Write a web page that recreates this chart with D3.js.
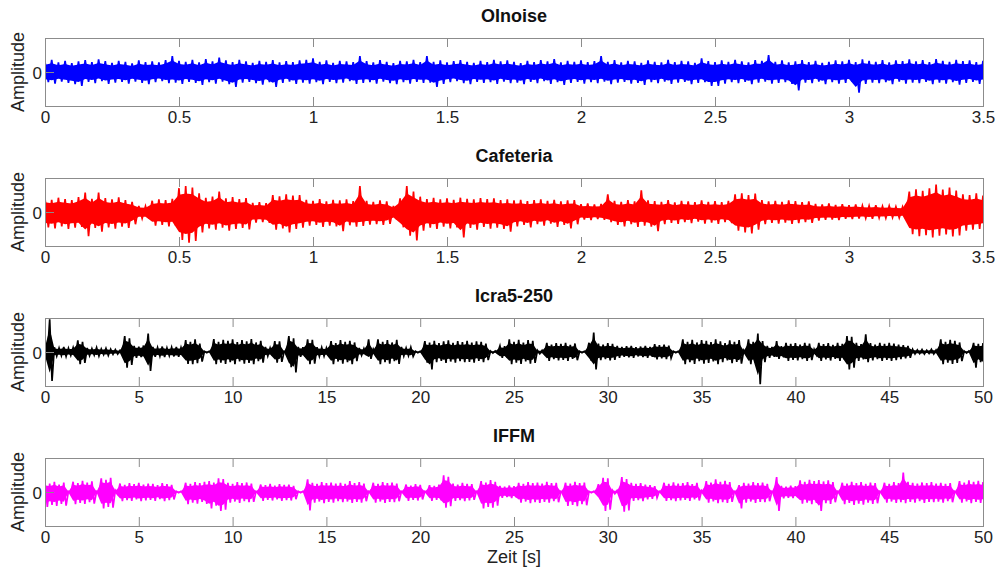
<!DOCTYPE html>
<html>
<head>
<meta charset="utf-8">
<script src="https://cdn.jsdelivr.net/npm/d3@7"></script>
<style>
  html, body { margin: 0; padding: 0; background: #fff; }
  svg { display: block; font-family: "Liberation Sans", Arial, sans-serif; }
</style>
</head>
<body>
<svg id="chart" width="999" height="568"></svg>
<script>
// ---------- DATA (amplitude envelopes, % of half axis height) ----------
const titles = ["OInoise", "Cafeteria", "Icra5-250", "IFFM"];
const colors = ["#0000ff", "#ff0000", "#000000", "#ff00ff"];
const xMax = [3.5, 3.5, 50, 50];
const binStep = [0.025, 0.025, 0.25, 0.25];
const ticksShort = [0, 0.5, 1, 1.5, 2, 2.5, 3, 3.5];
const ticksLong = [0, 5, 10, 15, 20, 25, 30, 35, 40, 45, 50];
const yTickLabels = ["0"];
const xLabel = "Zeit [s]";
const yLabel = "Amplitude";

const oinoiseUpper = [30,36,28,33,26,31,35,29,37,32, 27,33,30,25,34,29,31,28,35,47, 33,30,36,28,38,31,42,34,29,36,
  31,27,33,30,35,28,32,29,34,36, 40,30,34,27,33,31,29,47,32,28, 35,30,26,33,31,36,29,47,30,34,
  28,32,35,30,27,33,29,36,31,34, 30,26,33,29,35,31,38,28,33,30, 34,29,32,47,30,35,28,33,31,27,
  34,30,28,36,29,33,31,27,40,32, 29,34,30,36,31,28,35,33,50,30, 34,28,31,35,29,33,27,30,34,31,
  36,29,37,33,30,35,28,34,32,37, 31,35,29,38,33,30,36,32,34,29,33];
const oinoiseLower = [-30,-34,-28,-32,-36,-41,-29,-33,-27,-35, -31,-29,-34,-28,-32,-36,-30,-27,-33,-31,
  -35,-29,-32,-38,-30,-34,-28,-36,-44,-31, -29,-33,-37,-30,-44,-32,-28,-35,-31,-34,
  -30,-36,-29,-33,-31,-27,-35,-32,-30,-34, -28,-33,-36,-30,-34,-29,-32,-31,-44,-35,
  -30,-27,-33,-36,-29,-32,-30,-35,-28,-33, -31,-36,-29,-33,-27,-35,-30,-38,-32,-29,
  -34,-30,-33,-28,-36,-31,-29,-34,-32,-38, -30,-33,-28,-35,-31,-29,-36,-32,-30,-41,
  -41,-34,-30,-33,-29,-36,-31,-28,-34,-32, -30,-35,-54,-31,-33,-28,-36,-30,-34,-32,
  -29,-61,-35,-31,-33,-30,-36,-28,-34,-31, -33,-29,-36,-31,-34,-30,-37,-32,-29,-35,-31];

const cafeteriaUpper = [40,36,42,38,35,44,57,39,57,41, 37,43,35,30,18,17,33,37,35,39, 70,76,72,55,42,45,60,40,44,38,
  41,27,29,26,50,46,52,48,50,36, 33,38,31,36,34,37,32,76,33,30, 34,31,18,40,76,60,45,38,42,37,
  40,36,42,39,37,41,38,40,35,37, 34,36,32,35,37,33,36,31,34,35, 23,25,22,24,52,33,30,35,31,64,
  34,32,30,35,28,33,31,29,34,30, 32,29,33,52,55,50,54,35,31,33, 30,34,32,29,31,24,22,25,21,23,
  20,22,19,18,20,17,18,16,15,60, 67,62,70,81,66,72,63,52,50,55, 48];
const cafeteriaLower = [-45,-48,-42,-50,-46,-44,-71,-47,-58,-45, -49,-43,-47,-36,-19,-19,-40,-38,-42,-40,
  -82,-90,-85,-60,-48,-52,-46,-55,-50,-47, -51,-31,-30,-32,-52,-48,-60,-50,-46,-40,
  -38,-44,-40,-42,-56,-39,-43,-41,-37,-36, -38,-35,-22,-45,-70,-84,-55,-46,-50,-43,
  -48,-45,-75,-47,-52,-44,-49,-46,-50,-58, -42,-38,-45,-36,-40,-34,-44,-38,-48,-36,
  -22,-24,-21,-23,-30,-38,-42,-36,-44,-40, -43,-56,-36,-32,-35,-30,-33,-28,-34,-31,
  -35,-30,-33,-55,-60,-63,-52,-36,-32,-34, -31,-35,-33,-30,-32,-25,-23,-22,-24,-20,
  -21,-19,-18,-20,-17,-18,-16,-17,-15,-65, -71,-68,-75,-70,-66,-72,-69,-55,-52,-50, -46];

const icraUpper = [20,96,14,12,15,11,13,34,30,12, 10,13,9,11,8,7,5,47,40,18, 16,19,54,15,13,16,12,14,15,13,
  35,30,37,25,2,2,38,30,36,33, 37,29,35,31,38,28,33,15,12,32, 31,2,47,40,15,14,37,36,14,13,
  12,32,26,35,30,33,28,12,10,37, 8,37,30,35,28,36,15,12,14,2, 2,32,28,33,26,31,34,27,32,29,
  33,28,31,30,25,3,3,18,17,37, 30,36,28,35,33,5,5,27,22,26, 24,27,21,25,2,2,27,57,25,22,
  26,24,18,15,17,18,14,16,18,15, 23,20,22,19,2,2,37,30,36,28, 35,33,29,37,31,26,34,30,35,5,
  37,30,54,32,18,15,32,17,27,24, 26,22,27,25,8,27,23,26,21,27, 24,47,45,27,23,52,26,22,27,24,
  27,25,22,20,18,8,6,7,5,8, 6,37,30,36,33,28,3,3,27,24,26];
const icraLower = [-15,-85,-12,-11,-13,-10,-12,-36,-32,-11, -9,-12,-8,-10,-7,-6,-5,-46,-38,-17,
  -15,-18,-56,-14,-12,-15,-11,-13,-14,-12, -35,-36,-33,-28,-2,-2,-36,-31,-35,-30,
  -36,-28,-34,-32,-36,-27,-31,-12,-10,-31, -29,-2,-45,-60,-14,-13,-36,-34,-13,-12,
  -11,-36,-28,-34,-30,-36,-27,-10,-9,-20, -8,-36,-30,-34,-27,-35,-12,-11,-13,-2,
  -2,-31,-51,-30,-26,-32,-28,-31,-27,-30, -29,-31,-26,-30,-24,-3,-3,-17,-16,-36,
  -31,-35,-28,-34,-32,-5,-5,-26,-21,-25, -23,-26,-20,-24,-2,-2,-26,-51,-24,-21,
  -25,-23,-17,-14,-16,-17,-13,-15,-17,-14, -22,-19,-21,-18,-2,-2,-36,-30,-35,-27,
  -34,-32,-28,-36,-30,-25,-33,-29,-34,-5, -36,-31,-95,-30,-17,-14,-20,-16,-26,-23,
  -25,-21,-26,-24,-8,-26,-22,-25,-20,-26, -23,-51,-46,-26,-22,-30,-25,-21,-26,-23,
  -26,-24,-21,-19,-17,-6,-5,-6,-4,-6, -5,-36,-31,-35,-32,-27,-3,-3,-46,-30,-40];

const iffmUpper = [27,25,30,22,28,2,30,26,33,28, 31,2,40,36,42,5,25,21,26,23, 27,22,25,24,20,26,23,21,2,2,
  27,24,29,26,30,32,28,40,38,27, 24,29,26,28,25,2,22,20,24,19, 23,21,22,18,2,2,37,27,24,29,
  26,28,25,27,24,32,26,29,25,2, 27,24,29,26,28,25,2,22,19,23, 21,2,20,18,22,49,45,25,22,27,
  24,23,2,32,28,35,30,18,16,19, 17,27,24,29,26,28,25,30,26,27, 2,27,25,30,26,28,2,2,23,42,
  40,5,5,44,38,27,24,26,22,20, 17,2,27,24,28,25,26,29,23,27, 4,32,28,37,30,33,29,2,20,27,
  25,29,26,28,24,2,44,18,16,19, 17,34,30,36,32,35,31,34,29,2, 27,25,30,26,29,24,28,26,2,27,
  24,29,26,57,30,27,25,28,26,29, 25,27,24,26,2,32,28,34,30,33,29];
const iffmLower = [-44,-38,-41,-35,-40,-2,-36,-32,-35,-30, -34,-2,-48,-44,-46,-5,-27,-24,-26,-22,
  -27,-25,-23,-26,-21,-27,-24,-22,-2,-2, -36,-31,-34,-29,-35,-48,-40,-56,-52,-31,
  -28,-32,-27,-30,-29,-2,-26,-23,-25,-22, -26,-24,-25,-21,-2,-2,-54,-31,-28,-33,
  -29,-31,-27,-30,-28,-32,-29,-31,-27,-2, -31,-28,-32,-29,-30,-27,-2,-26,-23,-25,
  -22,-2,-26,-23,-25,-46,-42,-26,-24,-27, -25,-23,-2,-48,-44,-46,-40,-17,-15,-18,
  -16,-31,-28,-33,-30,-32,-29,-31,-27,-30, -2,-41,-38,-42,-36,-39,-2,-2,-22,-56,
  -52,-5,-5,-58,-54,-26,-24,-27,-22,-20, -17,-2,-26,-24,-27,-25,-23,-26,-22,-25,
  -4,-31,-28,-33,-30,-32,-29,-2,-48,-31, -28,-32,-29,-30,-27,-2,-56,-19,-17,-18,
  -16,-34,-31,-36,-32,-56,-33,-35,-30,-2, -36,-32,-38,-34,-37,-31,-35,-33,-2,-31,
  -28,-32,-30,-33,-29,-31,-27,-32,-29,-30, -28,-31,-27,-30,-2,-31,-28,-33,-29,-32,-30];

const uppers = [oinoiseUpper, cafeteriaUpper, icraUpper, iffmUpper];
const lowers = [oinoiseLower, cafeteriaLower, icraLower, iffmLower];
const tickSets = [ticksShort, ticksShort, ticksLong, ticksLong];

// ---------- LAYOUT ----------
const svg = d3.select("#chart");
const left = 45, right = 983, panelH = 68, panelGap = 140, firstTop = 38;
const frameColor = "#8c8c8c", textColor = "#222";
const coreShare = 0.72; // visual: solid core of the trace

for (let p = 0; p < 4; p++) {
  const top = firstTop + p * panelGap, bottom = top + panelH;
  const x = d3.scaleLinear().domain([0, xMax[p]]).range([left, right]);
  const y = d3.scaleLinear().domain([-100, 100]).range([bottom, top]);
  const g = svg.append("g");

  const clipId = "clip" + p;
  svg.append("clipPath").attr("id", clipId).append("rect")
    .attr("x", left).attr("y", top).attr("width", right - left).attr("height", panelH);

  const pts = uppers[p].map((u, i) => ({ t: i * binStep[p], u: u, l: lowers[p][i] }));
  const dataG = g.append("g").attr("clip-path", `url(#${clipId})`);

  const core = d3.area().x(d => x(d.t)).y0(d => y(d.l * coreShare)).y1(d => y(d.u * coreShare));
  dataG.append("path").datum(pts).attr("d", core).attr("fill", colors[p]);

  const zig = [];
  pts.forEach(d => { zig.push([d.t, d.u]); zig.push([d.t + binStep[p] / 2, d.l]); });
  const line = d3.line().x(d => x(d[0])).y(d => y(d[1]));
  dataG.append("path").datum(zig).attr("d", line).attr("fill", "none")
    .attr("stroke", colors[p]).attr("stroke-width", 1.7).attr("stroke-linejoin", "miter");

  const axB = g.append("g").attr("transform", `translate(0,${bottom})`)
    .call(d3.axisBottom(x).tickValues(tickSets[p]).tickSizeInner(-9).tickSizeOuter(0).tickPadding(5)
      .tickFormat(d3.format("~g")));
  const axT = g.append("g").attr("transform", `translate(0,${top})`)
    .call(d3.axisTop(x).tickValues(tickSets[p]).tickSizeInner(-9).tickSizeOuter(0).tickFormat(""));
  const axL = g.append("g").attr("transform", `translate(${left},0)`)
    .call(d3.axisLeft(y).tickValues([0]).tickSizeInner(-9).tickSizeOuter(0).tickPadding(3)
      .tickFormat((d, i) => yTickLabels[i]));
  [axB, axT, axL].forEach(a => {
    a.select(".domain").remove();
    a.selectAll(".tick line").attr("stroke", frameColor);
    a.selectAll("text").attr("fill", textColor).style("font-size", "17px")
      .style("font-family", '"Liberation Sans", Arial, sans-serif');
  });
  axL.selectAll("text").attr("dy", "0.36em");

  g.append("rect").attr("x", left + 0.5).attr("y", top + 0.5)
    .attr("width", right - left).attr("height", panelH)
    .attr("fill", "none").attr("stroke", frameColor).attr("stroke-width", 1);

  g.append("text").attr("x", (left + right) / 2).attr("y", top - 16)
    .attr("text-anchor", "middle").attr("fill", "#111")
    .style("font-size", "18px").style("font-weight", "bold").text(titles[p]);

  g.append("text").attr("transform", `translate(24,${top + panelH / 2}) rotate(-90)`)
    .attr("text-anchor", "middle").attr("fill", textColor).style("font-size", "18px").text(yLabel);
}

svg.append("text").attr("x", 514).attr("y", 563).attr("text-anchor", "middle")
  .attr("fill", textColor).style("font-size", "18px").text(xLabel);
</script>
</body>
</html>
